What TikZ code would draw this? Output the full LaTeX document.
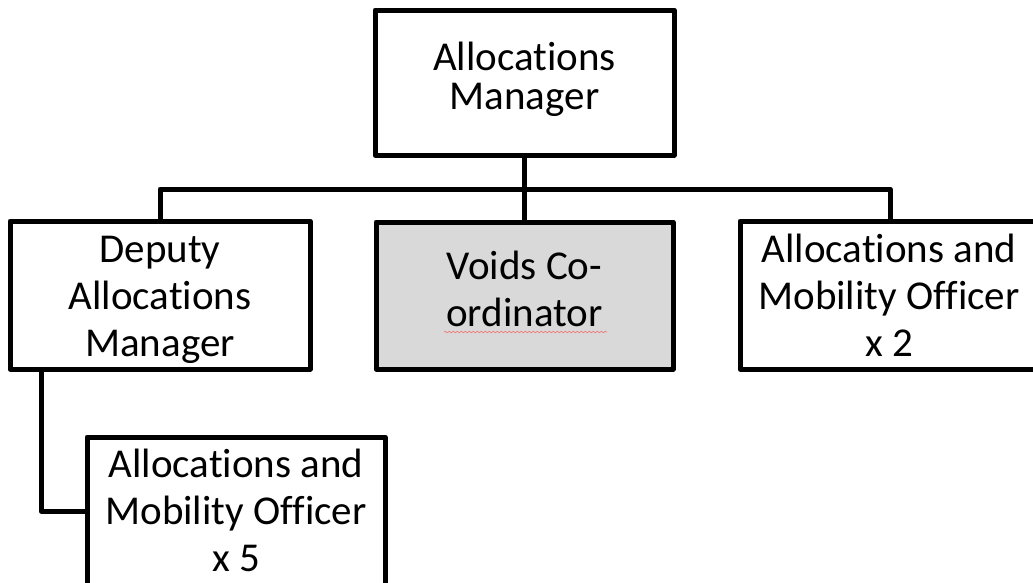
\documentclass[tikz,border=0pt]{standalone}
\usepackage{fontspec}
\setmainfont{Carlito}[Ligatures=NoCommon]
\usetikzlibrary{decorations.pathmorphing}
\definecolor{boxgray}{HTML}{D9D9D9}
\definecolor{squiggle}{HTML}{F08080}
\tikzset{
  orgbox/.style={draw=black, line width=5pt, line join=round, fill=white, inner sep=0pt},
  boxtext/.style={inner sep=0pt, align=center, font=\fontsize{41}{47}\selectfont},
  link/.style={draw=black, line width=5pt, line join=round},
}
\begin{document}
\begin{tikzpicture}[x=1pt, y=-1pt]
\useasboundingbox (0,0) rectangle (1033,582);
\node[orgbox, minimum width=299pt, minimum height=145pt] (top) at (524.5,82.5) {};
\node[orgbox, minimum width=300pt, minimum height=148pt] (dep) at (160,295) {};
\node[orgbox, fill=boxgray, minimum width=297pt, minimum height=147pt] (voids) at (524.5,295.5) {};
\node[orgbox, minimum width=304pt, minimum height=148pt] (amo2) at (892,295) {};
\node[orgbox, minimum width=298pt, minimum height=148pt] (amo5) at (236,511) {};
\node[boxtext, font=\fontsize{41}{39}\selectfont, yshift=3.5pt] (topt) at (top.center) {Allocations\\Manager};
\node[boxtext, yshift=-5pt] (dept) at (dep.center) {Deputy\\Allocations\\Manager};
\node[boxtext, yshift=6.5pt] (voidst) at (voids.center) {Voids Co-\\ordinator};
\node[boxtext] (amo2t) at (889,295) {Allocations and\\Mobility Officer\\x 2};
\node[boxtext, yshift=1pt] (amo5t) at (amo5.center) {Allocations and\\Mobility Officer\\x 5};
\coordinate (bus) at (524.5,189);
\draw[link] (top.south) -- (bus);
\draw[link] (dep.north) |- (bus) -| ([xshift=-2pt]amo2.north);
\draw[link] (bus) -- (voids.north);
\draw[link] ([xshift=-119pt]dep.south) |- (amo5.west);
\draw[squiggle, line width=0.8pt, decorate, decoration={snake, amplitude=0.7pt, segment length=4pt}] (444,332) -- (607,332);
\end{tikzpicture}
\end{document}
